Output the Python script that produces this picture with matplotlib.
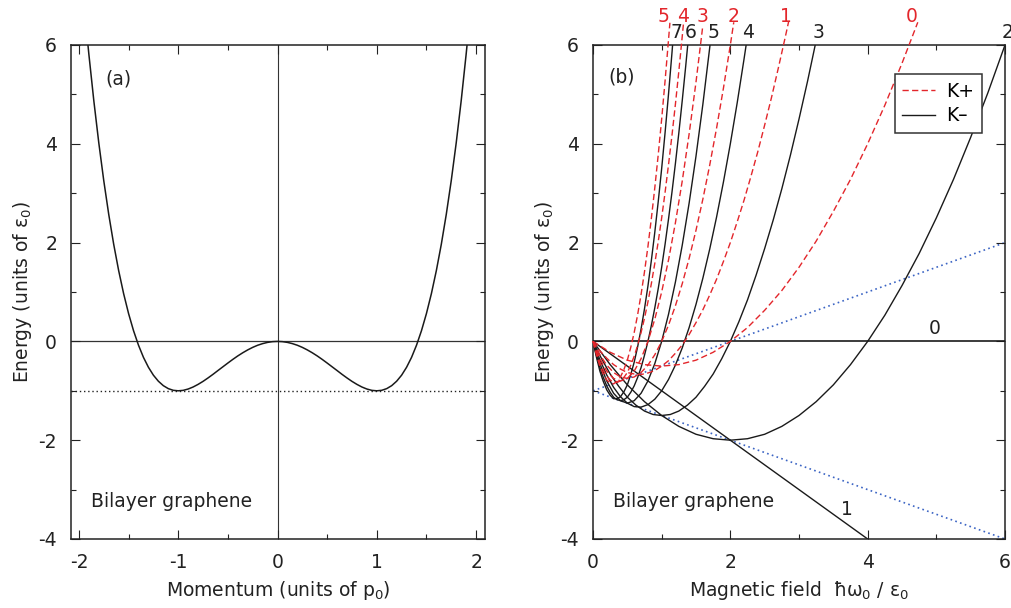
import matplotlib
matplotlib.use('Agg')
import matplotlib.pyplot as plt
from matplotlib.ticker import MultipleLocator
from matplotlib.lines import Line2D

plt.rcParams['font.family'] = ['DejaVu Sans']
plt.rcParams['mathtext.fontset'] = 'custom'
plt.rcParams['mathtext.rm'] = 'DejaVu Sans'
plt.rcParams['mathtext.it'] = 'DejaVu Sans'
plt.rcParams['mathtext.bf'] = 'DejaVu Sans:bold'
plt.rcParams['axes.unicode_minus'] = False

FS = 13.5

# ---------------- data: panel (a) dispersion (p >= 0 half, symmetric) -------------
MOMENTUM_HALF = [0, 0.05, 0.1, 0.15, 0.2, 0.25, 0.3, 0.35, 0.4, 0.45, 0.5, 0.55, 0.6,
                 0.65, 0.7, 0.75, 0.8, 0.85, 0.9, 0.95, 1.0, 1.05, 1.1, 1.15, 1.2, 1.25,
                 1.3, 1.35, 1.4, 1.45, 1.5, 1.55, 1.6, 1.65, 1.7, 1.75, 1.8, 1.85, 1.9, 1.92]
ENERGY_HALF = [0, -0.005, -0.020, -0.045, -0.078, -0.121, -0.172, -0.230, -0.294, -0.364,
               -0.438, -0.514, -0.590, -0.667, -0.740, -0.809, -0.870, -0.923, -0.964, -0.991,
               -1.0, -0.990, -0.956, -0.896, -0.806, -0.684, -0.524, -0.324, -0.078, 0.216,
               0.563, 0.967, 1.434, 1.967, 2.572, 3.254, 4.018, 4.869, 5.812, 6.217]
BAND_MIN = -1.0

# ---------------- data: panel (b) Landau levels -----------------------------------
# K- valley (black solid)
KM0_X = [0, 6]
KM0_E = [0, 0]
KM1_X = [0, 4]
KM1_E = [0, -4]
KM2_X = [0, 0.25, 0.5, 0.75, 1.0, 1.25, 1.5, 1.75, 2.0, 2.25, 2.5, 2.75, 3.0, 3.25, 3.5,
         3.75, 4.0, 4.25, 4.5, 4.75, 5.0, 5.25, 5.5, 5.75, 6.0]
KM2_E = [0, -0.47, -0.88, -1.22, -1.5, -1.72, -1.88, -1.97, -2.0, -1.97, -1.88, -1.72, -1.5,
         -1.22, -0.88, -0.47, 0, 0.53, 1.13, 1.78, 2.5, 3.28, 4.13, 5.03, 6.0]
KM3_X = [0, 0.125, 0.25, 0.375, 0.5, 0.625, 0.75, 0.875, 1.0, 1.125, 1.25, 1.375, 1.5,
         1.625, 1.75, 1.875, 2.0, 2.125, 2.25, 2.375, 2.5, 2.625, 2.75, 2.875, 3.0, 3.125, 3.25]
KM3_E = [0, -0.35, -0.66, -0.91, -1.13, -1.29, -1.41, -1.48, -1.5, -1.48, -1.41, -1.29, -1.13,
         -0.91, -0.66, -0.35, 0, 0.40, 0.84, 1.34, 1.88, 2.46, 3.09, 3.77, 4.5, 5.27, 6.09]
KM4_X = [0, 0.1, 0.2, 0.3, 0.4, 0.5, 0.6, 0.7, 0.8, 0.9, 1.0, 1.1, 1.2, 1.3, 1.4, 1.5, 1.6,
         1.7, 1.8, 1.9, 2.0, 2.1, 2.2, 2.24]
KM4_E = [0, -0.37, -0.68, -0.93, -1.12, -1.25, -1.32, -1.33, -1.28, -1.17, -1.0, -0.77, -0.48,
         -0.13, 0.28, 0.75, 1.28, 1.87, 2.52, 3.23, 4.0, 4.83, 5.72, 6.09]
KM5_X = [0, 0.1, 0.2, 0.3, 0.4, 0.5, 0.6, 0.7, 0.8, 0.9, 1.0, 1.1, 1.2, 1.3, 1.4, 1.5, 1.6,
         1.7, 1.71]
KM5_E = [0, -0.45, -0.8, -1.05, -1.2, -1.25, -1.2, -1.05, -0.8, -0.45, 0, 0.55, 1.2, 1.95,
         2.8, 3.75, 4.8, 5.95, 6.07]
KM6_X = [0, 0.05, 0.1, 0.15, 0.2, 0.25, 0.3, 0.35, 0.4, 0.45, 0.5, 0.55, 0.6, 0.65, 0.7,
         0.75, 0.8, 0.85, 0.9, 0.95, 1.0, 1.05, 1.1, 1.15, 1.2, 1.25, 1.3, 1.35, 1.385]
KM6_E = [0, -0.28, -0.53, -0.73, -0.9, -1.03, -1.13, -1.18, -1.2, -1.18, -1.13, -1.03, -0.9,
         -0.73, -0.53, -0.28, 0, 0.32, 0.68, 1.07, 1.5, 1.97, 2.48, 3.02, 3.6, 4.22, 4.88,
         5.57, 6.08]
KM7_X = [0, 0.05, 0.1, 0.15, 0.2, 0.25, 0.3, 0.35, 0.4, 0.45, 0.5, 0.55, 0.6, 0.65, 0.7,
         0.75, 0.8, 0.85, 0.9, 0.95, 1.0, 1.05, 1.1, 1.15, 1.165]
KM7_E = [0, -0.32, -0.60, -0.81, -0.98, -1.09, -1.16, -1.16, -1.12, -1.02, -0.88, -0.67,
         -0.42, -0.11, 0.25, 0.66, 1.12, 1.64, 2.21, 2.83, 3.5, 4.23, 5.01, 5.84, 6.10]

# K+ valley (red dashed)
KP0_X = [0, 0.25, 0.5, 0.75, 1.0, 1.25, 1.5, 1.75, 2.0, 2.25, 2.5, 2.75, 3.0, 3.25, 3.5,
         3.75, 4.0, 4.25, 4.5, 4.73]
KP0_E = [0, -0.22, -0.38, -0.47, -0.5, -0.47, -0.38, -0.22, 0, 0.28, 0.63, 1.03, 1.5, 2.03,
         2.63, 3.28, 4.0, 4.78, 5.63, 6.46]
KP1_X = [0, 0.1, 0.2, 0.3, 0.4, 0.5, 0.6, 0.7, 0.8, 0.9, 1.0, 1.1, 1.2, 1.3, 1.4, 1.5, 1.6,
         1.7, 1.8, 1.9, 2.0, 2.1, 2.2, 2.3, 2.4, 2.5, 2.6, 2.7, 2.8, 2.85]
KP1_E = [0, -0.19, -0.34, -0.47, -0.56, -0.63, -0.66, -0.67, -0.64, -0.59, -0.5, -0.39, -0.24,
         -0.07, 0.14, 0.38, 0.64, 0.94, 1.26, 1.62, 2.0, 2.42, 2.86, 3.34, 3.84, 4.38, 4.94,
         5.54, 6.16, 6.48]
KP2_X = [0, 0.1, 0.2, 0.3, 0.4, 0.5, 0.6, 0.7, 0.8, 0.9, 1.0, 1.1, 1.2, 1.3, 1.4, 1.5, 1.6,
         1.7, 1.8, 1.9, 2.0, 2.05]
KP2_E = [0, -0.27, -0.48, -0.63, -0.72, -0.75, -0.72, -0.63, -0.48, -0.27, 0, 0.33, 0.72,
         1.17, 1.68, 2.25, 2.88, 3.57, 4.32, 5.13, 6.0, 6.46]
KP3_X = [0, 0.1, 0.2, 0.3, 0.4, 0.5, 0.6, 0.7, 0.8, 0.9, 1.0, 1.1, 1.2, 1.3, 1.4, 1.5, 1.6]
KP3_E = [0, -0.35, -0.6, -0.75, -0.8, -0.75, -0.6, -0.35, 0, 0.45, 1.0, 1.65, 2.4, 3.25, 4.2,
         5.25, 6.4]
KP4_X = [0, 0.05, 0.1, 0.15, 0.2, 0.25, 0.3, 0.35, 0.4, 0.45, 0.5, 0.55, 0.6, 0.65, 0.7,
         0.75, 0.8, 0.85, 0.9, 0.95, 1.0, 1.05, 1.1, 1.15, 1.2, 1.25, 1.3, 1.32]
KP4_E = [0, -0.23, -0.43, -0.58, -0.7, -0.78, -0.83, -0.83, -0.8, -0.73, -0.63, -0.48, -0.3,
         -0.08, 0.18, 0.47, 0.8, 1.17, 1.58, 2.02, 2.5, 3.02, 3.58, 4.17, 4.8, 5.47, 6.18, 6.47]
KP5_X = [0, 0.05, 0.1, 0.15, 0.2, 0.25, 0.3, 0.35, 0.4, 0.45, 0.5, 0.55, 0.6, 0.65, 0.7,
         0.75, 0.8, 0.85, 0.9, 0.95, 1.0, 1.05, 1.1, 1.12]
KP5_E = [0, -0.27, -0.50, -0.66, -0.78, -0.84, -0.86, -0.81, -0.72, -0.57, -0.38, -0.12,
         0.18, 0.54, 0.95, 1.41, 1.92, 2.49, 3.11, 3.78, 4.5, 5.28, 6.11, 6.45]

# envelope (blue dotted) lines
ENV_X = [0, 6]
ENV_UP_E = [-1, 2]
ENV_DN_E = [-1, -4]

# level labels: (text, x) at a common energy
KM_LABELS = [('7', 1.22), ('6', 1.42), ('5', 1.75), ('4', 2.26), ('3', 3.29), ('2', 6.04)]
KM_LABEL_E = 6.26
KP_LABELS = [('5', 1.03), ('4', 1.31), ('3', 1.59), ('2', 2.04), ('1', 2.81), ('0', 4.64)]
KP_LABEL_E = 6.57

RED = '#e3262b'
BLK = '#1a1a1a'
TXT = '#222222'
BLUE = '#3b64c4'
DASH = (0, (4.5, 2.4))
DOT = (0, (1.0, 2.0))

fig = plt.figure(figsize=(10.12, 6.08), dpi=100)
ax1 = fig.add_axes([71 / 1012, 69 / 608, 414 / 1012, 494 / 608])
ax2 = fig.add_axes([593 / 1012, 69 / 608, 412 / 1012, 494 / 608])


def style(ax):
    for s in ax.spines.values():
        s.set_linewidth(1.1)
        s.set_color(TXT)
    ax.tick_params(which='both', direction='in', top=True, right=True,
                   labelsize=FS, pad=10, colors=TXT)
    ax.tick_params(which='major', length=6.5, width=0.8)
    ax.tick_params(which='minor', length=3.3, width=0.8)


# ---------------- panel (a) -------------
p_full = [-v for v in MOMENTUM_HALF[:0:-1]] + MOMENTUM_HALF
e_full = ENERGY_HALF[:0:-1] + ENERGY_HALF
ax1.axvline(0, color='#333333', lw=0.8, zorder=1)
ax1.axhline(0, color='#333333', lw=0.9, zorder=1)
ax1.axhline(BAND_MIN, color=TXT, lw=1.0, ls=DOT, zorder=1)
ax1.plot(p_full, e_full, color=BLK, lw=1.1, zorder=2)
ax1.set_xlim(-2.08, 2.09)
ax1.set_ylim(-4, 6)
ax1.xaxis.set_major_locator(MultipleLocator(1))
ax1.xaxis.set_minor_locator(MultipleLocator(0.5))
ax1.yaxis.set_major_locator(MultipleLocator(2))
ax1.yaxis.set_minor_locator(MultipleLocator(1))
style(ax1)
ax1.set_xlabel('Momentum (units of $p_0$)', fontsize=FS, labelpad=5, color=TXT)
ax1.set_ylabel('Energy (units of $\\varepsilon_0$)', fontsize=FS, labelpad=3, color=TXT)
ax1.text(-1.73, 5.32, '(a)', fontsize=FS, va='center', ha='left', color=TXT)
ax1.text(-1.88, -3.25, 'Bilayer graphene', fontsize=FS, va='center', ha='left', color=TXT)

# ---------------- panel (b) -------------
ax2.plot(ENV_X, ENV_UP_E, color=BLUE, lw=1.2, ls=DOT, zorder=1)
ax2.plot(ENV_X, ENV_DN_E, color=BLUE, lw=1.2, ls=DOT, zorder=1)
ax2.plot(KM0_X, KM0_E, color=BLK, lw=1.2, zorder=2)
ax2.plot(KM1_X, KM1_E, color=BLK, lw=1.0, zorder=2)
for xs, es in [(KM2_X, KM2_E), (KM3_X, KM3_E), (KM4_X, KM4_E), (KM5_X, KM5_E),
               (KM6_X, KM6_E), (KM7_X, KM7_E)]:
    ax2.plot(xs, es, color=BLK, lw=1.0, zorder=2)
for xs, es in [(KP0_X, KP0_E), (KP1_X, KP1_E), (KP2_X, KP2_E), (KP3_X, KP3_E),
               (KP4_X, KP4_E), (KP5_X, KP5_E)]:
    ax2.plot(xs, es, color=RED, lw=1.0, ls=DASH, zorder=3, clip_on=False)

ax2.set_xlim(0, 6)
ax2.set_ylim(-4, 6)
ax2.xaxis.set_major_locator(MultipleLocator(2))
ax2.xaxis.set_minor_locator(MultipleLocator(1))
ax2.yaxis.set_major_locator(MultipleLocator(2))
ax2.yaxis.set_minor_locator(MultipleLocator(1))
style(ax2)
ax2.set_xlabel('Magnetic field  $\\hbar\\omega_0$ / $\\varepsilon_0$', fontsize=FS,
               labelpad=5, color=TXT)
ax2.set_ylabel('Energy (units of $\\varepsilon_0$)', fontsize=FS, labelpad=3, color=TXT)

for t, x in KM_LABELS:
    ax2.text(x, KM_LABEL_E, t, fontsize=FS, ha='center', va='center', color=TXT,
             clip_on=False)
for t, x in KP_LABELS:
    ax2.text(x, KP_LABEL_E, t, fontsize=FS, ha='center', va='center', color=RED,
             clip_on=False)
ax2.text(4.98, 0.27, '0', fontsize=FS, ha='center', va='center', color=TXT)
ax2.text(3.70, -3.41, '1', fontsize=FS, ha='center', va='center', color=TXT)
ax2.text(0.23, 5.35, '(b)', fontsize=FS, va='center', ha='left', color=TXT)
ax2.text(0.29, -3.25, 'Bilayer graphene', fontsize=FS, va='center', ha='left', color=TXT)

handles = [Line2D([], [], color=RED, lw=1.0, ls=DASH),
           Line2D([], [], color=BLK, lw=1.0)]
leg = ax2.legend(handles, ['K+', 'K\u2013'], loc='upper right',
                 bbox_to_anchor=(0.944, 0.941), borderaxespad=0, fontsize=FS,
                 fancybox=False, framealpha=1, edgecolor='#333333',
                 handlelength=1.75, handletextpad=0.6, borderpad=0.4, labelspacing=0.3)
leg.get_frame().set_linewidth(1.1)

fig.savefig('out.png', dpi=100)
